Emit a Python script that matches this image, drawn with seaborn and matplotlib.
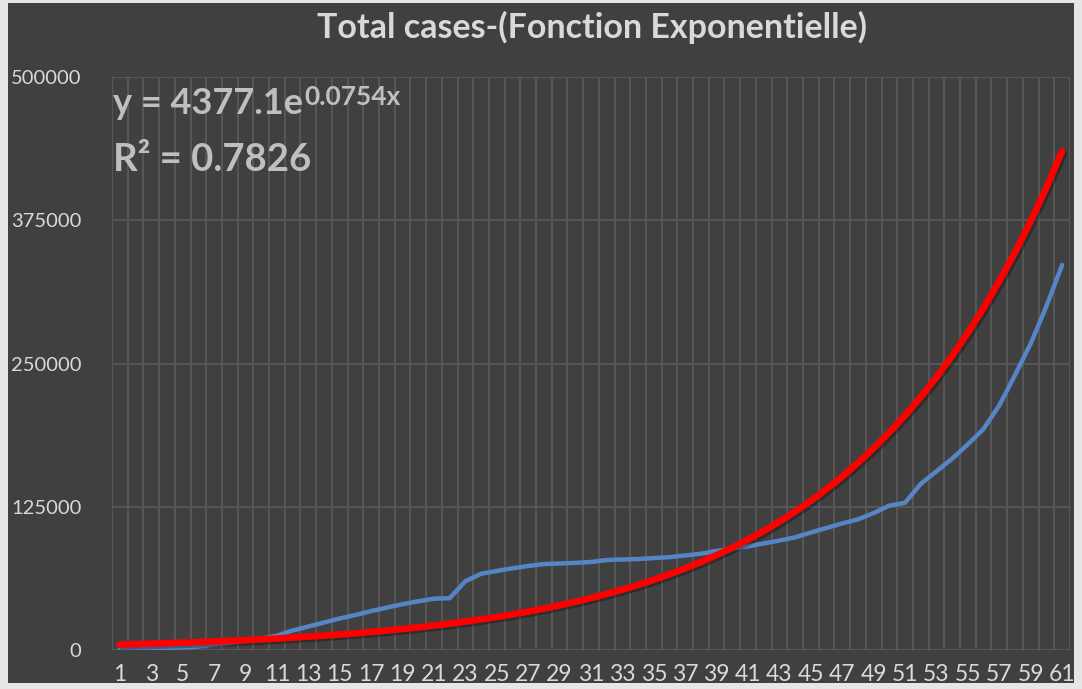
# Total cases - courbe + tendance exponentielle (style Excel sombre)
import numpy as np
import pandas as pd
import matplotlib.pyplot as plt
from matplotlib.patches import Rectangle
import matplotlib.patheffects as pe
import seaborn as sns

# jours 1..61
days = list(range(1, 62))
# total cases
total_cases = [500, 800, 1200, 1600, 2200, 3000, 4800, 6200, 7800, 10000,
               12500, 17000, 20500, 24000, 27500, 30500, 34000, 37000, 40000, 42500,
               44800, 45200, 60000, 66500, 69000, 71300, 73300, 75000, 75500, 76000,
               76800, 78500, 79000, 79400, 80200, 81000, 82500, 84000, 86500, 88500,
               90500, 93000, 95500, 98300, 102500, 106500, 110500, 114000, 119500, 126000,
               128500, 145000, 156000, 167000, 179500, 193000, 213500, 240000, 267500, 300000,
               336000]
# coefficients de la tendance affichés sur le graphique
coef_a = 4377.1
coef_b = 0.0754
r2 = 0.7826
y_ticks = [0, 125000, 250000, 375000, 500000]
x_ticks = days[::2]

df = pd.DataFrame({"jour": days, "cas": total_cases})
df["tendance"] = coef_a * np.exp(coef_b * df["jour"])

bg = "#404040"
grid_c = "#595959"
txt_c = "#d9d9d9"

sns.set_style("dark", {"axes.facecolor": bg, "figure.facecolor": bg})
plt.rcParams["font.family"] = ["Lato", "DejaVu Sans"]

fig = plt.figure(figsize=(10.82, 6.89), dpi=100)
fig.patch.set_facecolor("#e6e6e6")
# cadre sombre du graphique
fig.patches.append(Rectangle((8 / 1082, 6 / 689), 1066 / 1082, 680 / 689,
                             transform=fig.transFigure, facecolor=bg,
                             edgecolor="none", zorder=-10))
ax = fig.add_axes([112 / 1082, 39 / 689, 958 / 1082, 573 / 689])
ax.set_facecolor(bg)

sns.lineplot(data=df, x="jour", y="cas", ax=ax, color="#5585c5", lw=3.2,
             solid_capstyle="round", zorder=3)
sns.lineplot(data=df, x="jour", y="tendance", ax=ax, color="#ff0000", lw=4.8,
             solid_capstyle="round", zorder=4,
             path_effects=[pe.SimpleLineShadow(offset=(1.5, -1.5), alpha=0.3), pe.Normal()])

ax.set_xlim(0.5, 61.5)
ax.set_ylim(0, 500000)
ax.set_xticks(x_ticks)
ax.set_xticks(np.arange(0.5, 62, 1), minor=True)
ax.set_yticks(y_ticks)
ax.set_yticklabels([str(v) for v in y_ticks])
ax.grid(False)
ax.grid(True, which="minor", axis="x", color=grid_c, lw=1.3)
ax.grid(True, which="major", axis="y", color=grid_c, lw=1.3)
ax.set_axisbelow(True)
ax.tick_params(axis="both", which="both", length=0, colors=txt_c)
ax.tick_params(axis="y", pad=22, labelsize=14.5)
ax.tick_params(axis="x", pad=10, labelsize=16.5)
for s in ax.spines.values():
    s.set_visible(False)
ax.set_xlabel("")
ax.set_ylabel("")

fig.text(0.547, 1 - 27 / 689, "Total cases-(Fonction Exponentielle)", ha="center", va="center",
         color=txt_c, fontsize=24.5, fontweight="bold")

# equation de tendance
eq_c = "#bfbfbf"
t1 = fig.text(113 / 1082, 1 - 104 / 689, "y = %.1fe" % coef_a, ha="left", va="center",
              color=eq_c, fontsize=26, fontweight="bold")
fig.canvas.draw()
bb = t1.get_window_extent(fig.canvas.get_renderer())
fig.text(bb.x1 / 1082 + 0.001, 1 - 97 / 689, "%.4fx" % coef_b, ha="left", va="center",
         color=eq_c, fontsize=19, fontweight="bold")
fig.text(113 / 1082, 1 - 160 / 689, "R² = %.4f" % r2, ha="left", va="center",
         color=eq_c, fontsize=27.5, fontweight="bold")

fig.savefig("out.png", dpi=100)
